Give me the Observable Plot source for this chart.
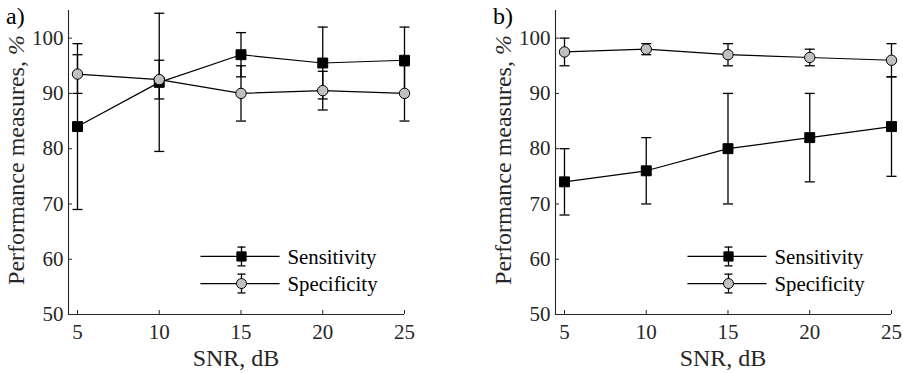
<!DOCTYPE html>
<html>
<head>
<meta charset="utf-8">
<script src="https://cdn.jsdelivr.net/npm/d3@7"></script>
<script src="https://cdn.jsdelivr.net/npm/@observablehq/plot@0.6"></script>
<style>
  body { margin: 0; background: white; }
  #wrap { position: relative; width: 903px; height: 373px; overflow: hidden; background: white; }
  .panel { position: absolute; top: 0; }
</style>
</head>
<body>
<div id="wrap"></div>
<script>
// ---- data ----
const snr = [5, 10, 15, 20, 25];
const xTicks = [5, 10, 15, 20, 25];
const yTicks = [50, 60, 70, 80, 90, 100];

// panel a)
const sensA = [84, 92, 97, 95.5, 96];
const sensAErr = [15, 12.5, 4, 6.5, 6];
const specA = [93.5, 92.5, 90, 90.5, 90];
const specAErr = [3.5, 3.5, 5, 3.5, 5];

// panel b)
const sensB = [74, 76, 80, 82, 84];
const sensBErr = [6, 6, 10, 8, 9];
const specB = [97.5, 98, 97, 96.5, 96];
const specBErr = [2.5, 1, 2, 1.5, 3];

const seriesNames = ["Sensitivity", "Specificity"];
const panelLabels = ["a)", "b)"];
const xLabel = "SNR, dB";
const yLabelMain = "Performance measures, ";
const yLabelUnit = "%";

// legend placement in data units
const legendX = {x1: 12.52, x2: 17.36, xm: 15.03, xt: 17.84};
const legendY = [60.5, 55.6];
const legendErr = 1.7;

const FONT = "'Liberation Serif', 'Times New Roman', serif";
const AX = "#262626";

const capSymbol = {
  draw(ctx, size) {
    const w = Math.sqrt(size / Math.PI);
    ctx.moveTo(-w, 0);
    ctx.lineTo(w, 0);
  }
};

function rows(vals, errs) {
  return snr.map((x, i) => ({x, y: vals[i], lo: vals[i] - errs[i], hi: vals[i] + errs[i]}));
}

function seriesMarks(data, symbol, fill) {
  return [
    Plot.ruleX(data, {x: "x", y1: "lo", y2: "hi", stroke: "black", strokeWidth: 1.3}),
    Plot.dot(data, {x: "x", y: "lo", symbol: capSymbol, r: 5, stroke: "black", strokeWidth: 1.3}),
    Plot.dot(data, {x: "x", y: "hi", symbol: capSymbol, r: 5, stroke: "black", strokeWidth: 1.3}),
    Plot.line(data, {x: "x", y: "y", stroke: "black", strokeWidth: 1.2}),
    Plot.dot(data, {x: "x", y: "y", symbol, r: symbol === "square" ? 5.6 : 5.2, fill, stroke: "black", strokeWidth: 1})
  ];
}

function legendMarks() {
  const leg = seriesNames.map((name, i) => ({
    name, y: legendY[i], lo: legendY[i] - legendErr, hi: legendY[i] + legendErr,
    x1: legendX.x1, x2: legendX.x2, xm: legendX.xm, xt: legendX.xt
  }));
  return [
    Plot.link(leg, {x1: "x1", x2: "x2", y1: "y", y2: "y", stroke: "black", strokeWidth: 1.2}),
    Plot.ruleX(leg, {x: "xm", y1: "lo", y2: "hi", stroke: "black", strokeWidth: 1.3}),
    Plot.dot(leg, {x: "xm", y: "lo", symbol: capSymbol, r: 4, stroke: "black", strokeWidth: 1.3}),
    Plot.dot(leg, {x: "xm", y: "hi", symbol: capSymbol, r: 4, stroke: "black", strokeWidth: 1.3}),
    Plot.dot(leg.slice(0, 1), {x: "xm", y: "y", symbol: "square", r: 5.2, fill: "black", stroke: "black", strokeWidth: 1}),
    Plot.dot(leg.slice(1), {x: "xm", y: "y", symbol: "circle", r: 5, fill: "#c0c0c0", stroke: "black", strokeWidth: 1}),
    Plot.text(leg, {x: "xt", y: "y", text: "name", textAnchor: "start", fontSize: 20.8, fill: "black", dy: 1})
  ];
}

function makePanel(sens, sensErr, spec, specErr, label, left) {
  const plot = Plot.plot({
    width: 416,
    height: 373,
    marginLeft: 68,
    marginRight: 12,
    marginTop: 10,
    marginBottom: 59,
    style: {fontFamily: FONT, fontSize: "21px", color: AX, background: "white", overflow: "visible"},
    x: {domain: [4.45, 25]},
    y: {domain: [50, 105]},
    marks: [
      Plot.axisX({ticks: xTicks, tickSize: -4, tickPadding: 14, label: null, tickFormat: d => String(d)}),
      Plot.axisY({ticks: yTicks, tickSize: -4, tickPadding: 9, label: null, tickFormat: d => String(d)}),
      Plot.ruleX([4.45], {stroke: AX, strokeWidth: 1.1}),
      Plot.ruleY([50], {stroke: AX, strokeWidth: 1.1}),
      ...seriesMarks(rows(sens, sensErr), "square", "black"),
      ...seriesMarks(rows(spec, specErr), "circle", "#c0c0c0"),
      ...legendMarks()
    ]
  });
  const svg = d3.select(plot);
  // x label
  svg.append("text")
    .attr("x", 236).attr("y", 366)
    .attr("text-anchor", "middle")
    .attr("font-family", FONT).attr("font-size", 24).attr("fill", AX)
    .text(xLabel);
  // y label
  const yl = svg.append("text")
    .attr("transform", "translate(24,160) rotate(-90)")
    .attr("text-anchor", "middle")
    .attr("font-family", FONT).attr("font-size", 24).attr("fill", AX);
  yl.append("tspan").text(yLabelMain);
  yl.append("tspan").attr("font-style", "italic").text(yLabelUnit);
  // panel label
  svg.append("text")
    .attr("x", 6).attr("y", 24)
    .attr("text-anchor", "start")
    .attr("font-family", FONT).attr("font-size", 24).attr("fill", "black")
    .text(label);

  const div = document.createElement("div");
  div.className = "panel";
  div.style.left = left + "px";
  div.appendChild(plot);
  document.getElementById("wrap").appendChild(div);
}

makePanel(sensA, sensAErr, specA, specAErr, panelLabels[0], 0);
makePanel(sensB, sensBErr, specB, specBErr, panelLabels[1], 487);
</script>
</body>
</html>
